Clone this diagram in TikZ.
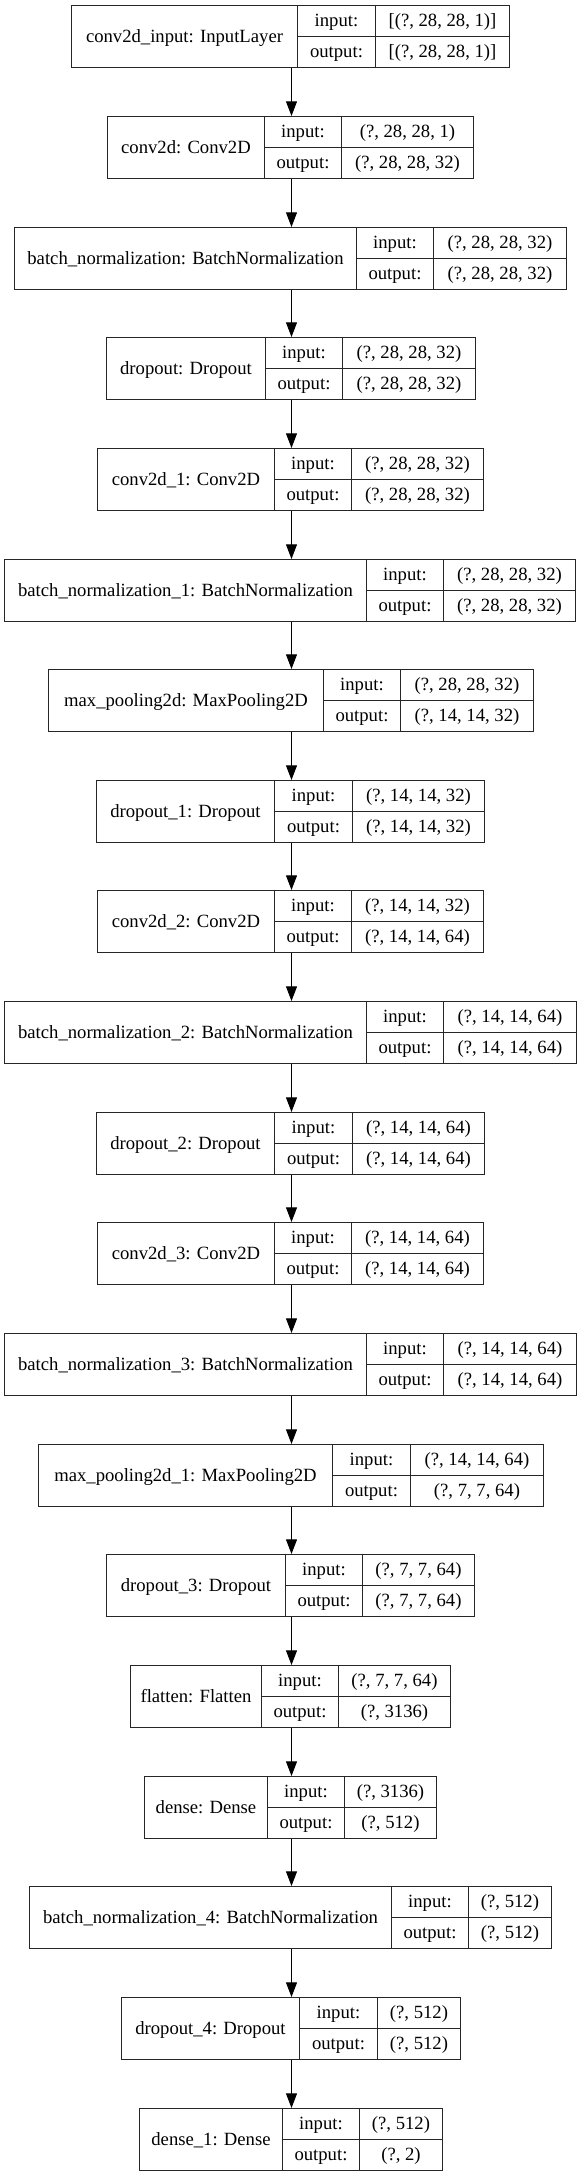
\documentclass[tikz,border=0pt]{standalone}
\usepackage{fontspec}
\setmainfont{Liberation Serif}
\usetikzlibrary{fit,arrows.meta}
\tikzset{
  box/.style={draw=black!85, line width=0.75pt, inner sep=0pt, fill=none},
  divider/.style={draw=black!85, line width=0.75pt},
  txt/.style={inner sep=0pt, font=\fontsize{14pt}{16pt}\selectfont, text height=10pt, text depth=1.2pt},
  arr/.style={draw=black, line width=0.75pt, -{Triangle[length=11pt, width=8.25pt]}}
}
\newcommand\nnlayer[8]{%
  \pgfmathsetmacro\yt{-(floor(5.7+110.66*(#1-1))+0.5)}%
  \pgfmathsetmacro\yb{\yt-62}%
  \pgfmathsetmacro\ym{\yt-31}%
  \pgfmathsetmacro\yi{\yt-15.5}%
  \pgfmathsetmacro\yo{\yt-46.5}%
  \pgfmathsetmacro\xa{floor(#2)+0.5}%
  \pgfmathsetmacro\xb{floor(#3)+0.5}%
  \pgfmathsetmacro\xc{floor(#4)+0.5}%
  \pgfmathsetmacro\xd{floor(#5)+0.5}%
  \node[box, fit={(\xa,\yt) (\xd,\yb)}] (L#1) {};
  \draw[divider] (\xb,\yt) -- (\xb,\yb) (\xc,\yt) -- (\xc,\yb) (\xb,\ym) -- (\xd,\ym);
  \node[txt] (L#1-name) at ({(\xa+\xb)/2},\ym) {#6};
  \node[txt] (L#1-inl) at ({(\xb+\xc)/2},\yi) {input:};
  \node[txt] (L#1-outl) at ({(\xb+\xc)/2},\yo) {output:};
  \node[txt] (L#1-in) at ({(\xc+\xd)/2},\yi) {#7};
  \node[txt] (L#1-out) at ({(\xc+\xd)/2},\yo) {#8};
}
\begin{document}
\begin{tikzpicture}[x=0.75pt, y=0.75pt]
\fill[white] (0,0) rectangle (581,-2176);
\useasboundingbox (0,0) rectangle (581,-2176);
\nnlayer{1}{71.5}{297.1}{375}{509.4}{conv2d\_input: InputLayer}{[(?, 28, 28, 1)]}{[(?, 28, 28, 1)]}
\nnlayer{2}{107.4}{264.2}{341.6}{473.9}{conv2d: Conv2D}{(?, 28, 28, 1)}{(?, 28, 28, 32)}
\nnlayer{3}{14.8}{356.4}{433.5}{566.1}{batch\_normalization: BatchNormalization}{(?, 28, 28, 32)}{(?, 28, 28, 32)}
\nnlayer{4}{106.7}{265.3}{342.7}{475}{dropout: Dropout}{(?, 28, 28, 32)}{(?, 28, 28, 32)}
\nnlayer{5}{97.1}{274.2}{351.2}{483.9}{conv2d\_1: Conv2D}{(?, 28, 28, 32)}{(?, 28, 28, 32)}
\nnlayer{6}{4.4}{366.4}{443.9}{575.8}{batch\_normalization\_1: BatchNormalization}{(?, 28, 28, 32)}{(?, 28, 28, 32)}
\nnlayer{7}{48.9}{323.1}{400.9}{533.2}{max\_pooling2d: MaxPooling2D}{(?, 28, 28, 32)}{(?, 14, 14, 32)}
\nnlayer{8}{96.3}{274.9}{352}{484.6}{dropout\_1: Dropout}{(?, 14, 14, 32)}{(?, 14, 14, 32)}
\nnlayer{9}{97.1}{274.2}{351.6}{483.9}{conv2d\_2: Conv2D}{(?, 14, 14, 32)}{(?, 14, 14, 64)}
\nnlayer{10}{4.4}{366.8}{443.9}{576.1}{batch\_normalization\_2: BatchNormalization}{(?, 14, 14, 64)}{(?, 14, 14, 64)}
\nnlayer{11}{96.3}{274.9}{352.7}{484.6}{dropout\_2: Dropout}{(?, 14, 14, 64)}{(?, 14, 14, 64)}
\nnlayer{12}{97.1}{274.2}{351.6}{483.9}{conv2d\_3: Conv2D}{(?, 14, 14, 64)}{(?, 14, 14, 64)}
\nnlayer{13}{4.4}{366.4}{443.9}{576.1}{batch\_normalization\_3: BatchNormalization}{(?, 14, 14, 64)}{(?, 14, 14, 64)}
\nnlayer{14}{38.5}{332.7}{410.5}{543.2}{max\_pooling2d\_1: MaxPooling2D}{(?, 14, 14, 64)}{(?, 7, 7, 64)}
\nnlayer{15}{106.3}{285.3}{362.7}{474.6}{dropout\_3: Dropout}{(?, 7, 7, 64)}{(?, 7, 7, 64)}
\nnlayer{16}{130.4}{261.2}{338.6}{450.5}{flatten: Flatten}{(?, 7, 7, 64)}{(?, 3136)}
\nnlayer{17}{144.5}{267.1}{344.6}{436.8}{dense: Dense}{(?, 3136)}{(?, 512)}
\nnlayer{18}{29.6}{391.3}{468.7}{551.7}{batch\_normalization\_4: BatchNormalization}{(?, 512)}{(?, 512)}
\nnlayer{19}{121.2}{299.4}{377.2}{460.2}{dropout\_4: Dropout}{(?, 512)}{(?, 512)}
\nnlayer{20}{139}{282}{359.4}{442}{dense\_1: Dense}{(?, 512)}{(?, 2)}
\foreach \a [evaluate=\a as \b using int(\a+1)] in {1,...,19}{
  \draw[arr] (291.5,0 |- L\a.south) -- (291.5,0 |- L\b.north);
}
\end{tikzpicture}
\end{document}
